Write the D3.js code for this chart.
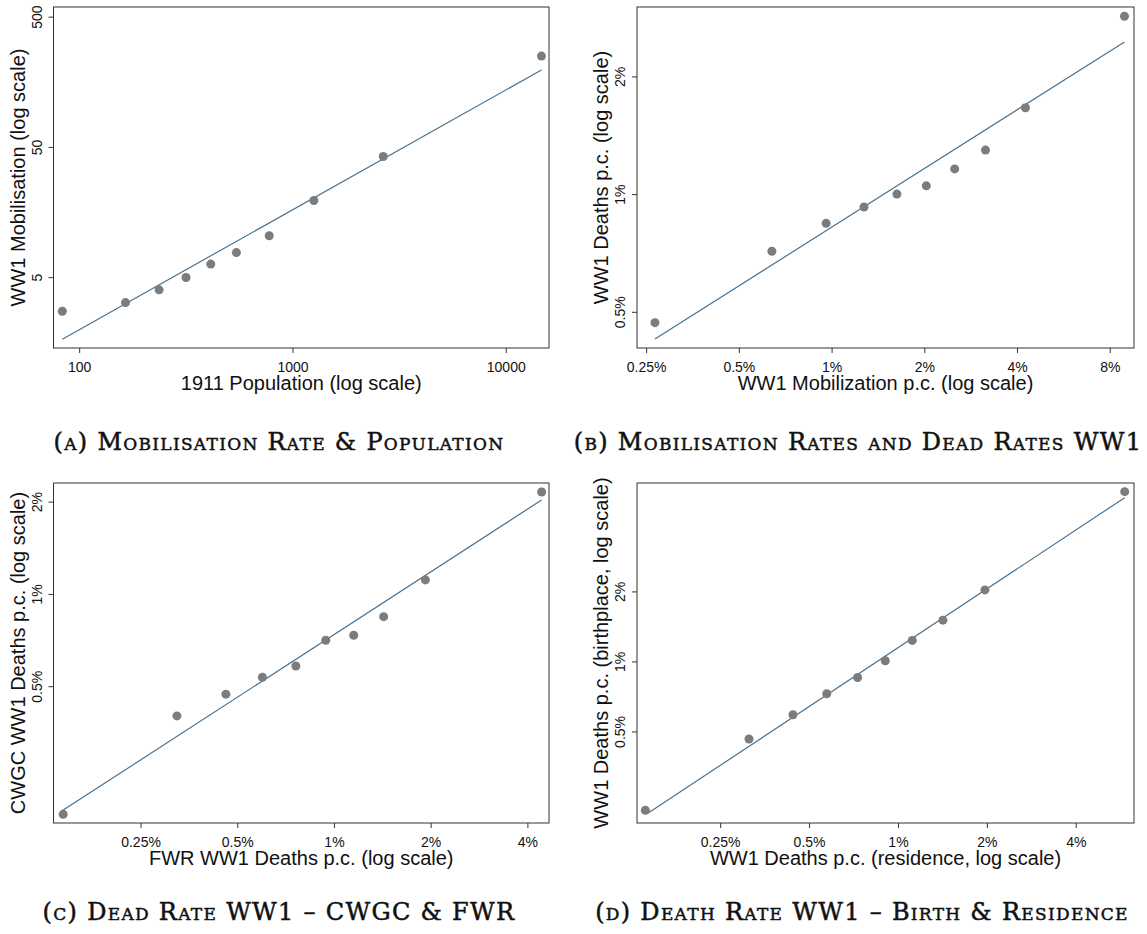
<!DOCTYPE html>
<html>
<head>
<meta charset="utf-8">
<script src="https://cdn.jsdelivr.net/npm/d3@7"></script>
<style>
  body { margin: 0; background: #fff; }
  svg { display: block; }
</style>
</head>
<body>
<div id="wrapper"></div>
<script>
// (A) population vs mobilisation (counts)
const popA = [83.4, 165, 237, 317, 414, 546, 778, 1260, 2665, 14700]
const mobA = [2.74, 3.19, 4.0, 4.97, 6.3, 7.72, 10.4, 19.4, 42.2, 249]
const fitAx = [83.4, 14700]
const fitAy = [1.67, 195]
const xDomainA = [75.8, 15950]
const yDomainA = [1.43, 593]
const xTicksA = [100, 1000, 10000]
const yTicksA = [5, 50, 500]

// (B) mobilisation p.c. vs deaths p.c. (percent)
const mobB = [0.267, 0.640, 0.960, 1.274, 1.63, 2.03, 2.51, 3.16, 4.26, 8.93]
const deathB = [0.469, 0.714, 0.842, 0.927, 1.0, 1.05, 1.16, 1.296, 1.663, 2.85]
const fitBx = [0.267, 8.93]
const fitBy = [0.426, 2.45]
const xDomainB = [0.2335, 9.59]
const yDomainB = [0.404, 3.01]
const xTicksB = [0.25, 0.5, 1, 2, 4, 8]
const yTicksB = [0.5, 1, 2]

// (C) FWR vs CWGC deaths p.c. (percent)
const fwrC = [0.1436, 0.3245, 0.461, 0.599, 0.761, 0.943, 1.152, 1.428, 1.926, 4.43]
const cwgcC = [0.191, 0.40, 0.471, 0.535, 0.582, 0.706, 0.733, 0.843, 1.111, 2.15]
const fitCx = [0.1413, 4.43]
const fitCy = [0.195, 2.025]
const xDomainC = [0.134, 4.67]
const yDomainC = [0.179, 2.30]
const xTicksC = [0.25, 0.5, 1, 2, 4]
const yTicksC = [0.5, 1, 2]

// (D) residence vs birthplace deaths p.c. (percent)
const resD = [0.1395, 0.313, 0.441, 0.574, 0.730, 0.906, 1.118, 1.42, 1.97, 5.86]
const birthD = [0.229, 0.464, 0.59, 0.726, 0.853, 1.007, 1.231, 1.505, 2.03, 5.37]
const fitDx = [0.1427, 5.86]
const fitDy = [0.223, 5.06]
const xDomainD = [0.1307, 6.30]
const yDomainD = [0.202, 5.85]
const xTicksD = [0.25, 0.5, 1, 2, 4]
const yTicksD = [0.5, 1, 2]

const pct = d => d + "%"
const plain = d => String(d)

const panels = [
  { x: popA, y: mobA, fx: fitAx, fy: fitAy, xd: xDomainA, yd: yDomainA, xt: xTicksA, yt: yTicksA, fmt: plain,
    xTitle: "1911 Population (log scale)", yTitle: "WW1 Mobilisation (log scale)",
    box: { left: 53.5, right: 549, top: 7, bottom: 348 },
    cap: "(a) Mobilisation Rate & Population", capX: 279, capY: 450 },
  { x: mobB, y: deathB, fx: fitBx, fy: fitBy, xd: xDomainB, yd: yDomainB, xt: xTicksB, yt: yTicksB, fmt: pct,
    xTitle: "WW1 Mobilization p.c. (log scale)", yTitle: "WW1 Deaths p.c. (log scale)",
    box: { left: 637, right: 1134, top: 7, bottom: 348 },
    cap: "(b) Mobilisation Rates and Dead Rates WW1", capX: 858, capY: 450 },
  { x: fwrC, y: cwgcC, fx: fitCx, fy: fitCy, xd: xDomainC, yd: yDomainC, xt: xTicksC, yt: yTicksC, fmt: pct,
    xTitle: "FWR WW1 Deaths p.c. (log scale)", yTitle: "CWGC WW1 Deaths p.c. (log scale)",
    box: { left: 53.5, right: 549, top: 483, bottom: 823 },
    cap: "(c) Dead Rate WW1 \u2013 CWGC & FWR", capX: 279, capY: 920 },
  { x: resD, y: birthD, fx: fitDx, fy: fitDy, xd: xDomainD, yd: yDomainD, xt: xTicksD, yt: yTicksD, fmt: pct,
    xTitle: "WW1 Deaths p.c. (residence, log scale)", yTitle: "WW1 Deaths p.c. (birthplace, log scale)",
    box: { left: 637, right: 1134, top: 483, bottom: 823 },
    cap: "(d) Death Rate WW1 \u2013 Birth & Residence", capX: 862, capY: 920 },
]

const svg = d3.select("#wrapper")
  .append("svg")
    .attr("width", 1147)
    .attr("height", 934)
    .style("font-family", "'Liberation Sans', Arial, sans-serif")

panels.forEach(p => {
  const b = p.box
  const w = b.right - b.left
  const h = b.bottom - b.top

  const xScale = d3.scaleLog().domain(p.xd).range([0, w])
  const yScale = d3.scaleLog().domain(p.yd).range([h, 0])

  const g = svg.append("g")
      .attr("transform", `translate(${b.left},${b.top})`)

  // fit line
  const line = d3.line()
    .x(d => xScale(d[0]))
    .y(d => yScale(d[1]))
  g.append("path")
    .datum(d3.zip(p.fx, p.fy))
    .attr("d", line)
    .attr("fill", "none")
    .attr("stroke", "#4a7290")
    .attr("stroke-width", 1.2)

  // dots
  g.selectAll("circle")
    .data(d3.zip(p.x, p.y))
    .enter().append("circle")
      .attr("cx", d => xScale(d[0]))
      .attr("cy", d => yScale(d[1]))
      .attr("r", 4.5)
      .attr("fill", "#7c7c7c")

  // frame
  g.append("rect")
    .attr("width", w)
    .attr("height", h)
    .attr("fill", "none")
    .attr("stroke", "#333")
    .attr("stroke-width", 1)

  const xAxis = g.append("g")
    .attr("transform", `translate(0,${h})`)
    .call(d3.axisBottom(xScale).tickValues(p.xt).tickFormat(p.fmt).tickSize(5).tickPadding(9))
  xAxis.select(".domain").remove()
  xAxis.selectAll("line").attr("stroke", "#333")
  xAxis.selectAll("text").attr("fill", "#111").style("font-size", "14px")

  const yAxis = g.append("g")
    .call(d3.axisLeft(yScale).tickValues(p.yt).tickFormat(p.fmt).tickSize(5))
  yAxis.select(".domain").remove()
  yAxis.selectAll("line").attr("stroke", "#333")
  yAxis.selectAll("text")
    .attr("transform", "rotate(-90)")
    .attr("x", 0)
    .attr("y", -12)
    .attr("dy", 0)
    .attr("text-anchor", "middle")
    .attr("fill", "#111")
    .style("font-size", "14px")

  g.append("text")
    .attr("x", w / 2)
    .attr("y", h + 42)
    .attr("text-anchor", "middle")
    .attr("fill", "#111")
    .style("font-size", "20px")
    .text(p.xTitle)

  g.append("text")
    .attr("transform", "rotate(-90)")
    .attr("x", -h / 2)
    .attr("y", -29)
    .attr("text-anchor", "middle")
    .attr("fill", "#111")
    .style("font-size", "20px")
    .text(p.yTitle)

  svg.append("text")
    .attr("x", p.capX)
    .attr("y", p.capY)
    .attr("text-anchor", "middle")
    .attr("fill", "#111")
    .attr("stroke", "#111")
    .attr("stroke-width", 0.5)
    .style("font-family", "'DejaVu Serif', 'Liberation Serif', serif")
    .style("font-variant", "small-caps")
    .style("font-size", "24px")
    .style("letter-spacing", "1.3px")
    .text(p.cap)
})
</script>
</body>
</html>
